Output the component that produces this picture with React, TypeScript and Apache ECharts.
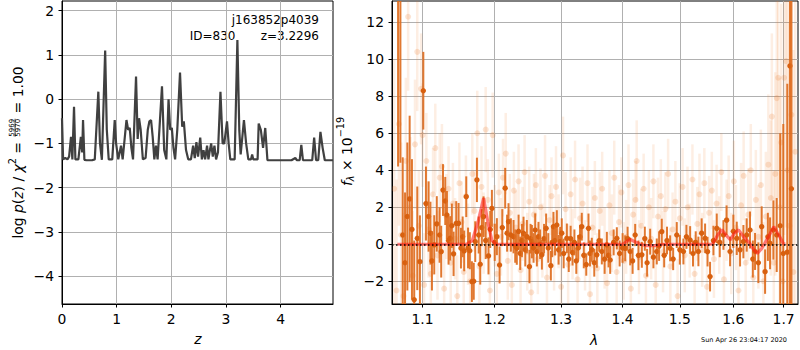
import React, { useEffect, useRef } from 'react';
import * as echarts from 'echarts';

const FONT = 'DejaVu Sans';

// ---- left panel: log p(z) ----
const zGrid = [
  0.00, 0.02, 0.06, 0.10, 0.13, 0.165, 0.19, 0.22, 0.245, 0.30,
  0.345, 0.37, 0.385, 0.41, 0.45, 0.55, 0.60, 0.665, 0.695, 0.73,
  0.79, 0.82, 0.855, 0.92, 0.965, 0.99, 1.03, 1.08, 1.11, 1.18,
  1.21, 1.24, 1.27, 1.30, 1.355, 1.385, 1.41, 1.44, 1.48, 1.53,
  1.57, 1.60, 1.63, 1.66, 1.69, 1.72, 1.75, 1.83, 1.87, 1.91,
  1.95, 1.98, 2.01, 2.04, 2.07, 2.11, 2.16, 2.20, 2.23, 2.27,
  2.31, 2.36, 2.40, 2.43, 2.46, 2.49, 2.53, 2.56, 2.59, 2.62,
  2.655, 2.68, 2.70, 2.73, 2.76, 2.79, 2.82, 2.855, 2.90, 2.94,
  2.97, 3.02, 3.05, 3.08, 3.16, 3.21, 3.245, 3.27, 3.33, 3.37,
  3.41, 3.46, 3.48, 3.50, 3.58, 3.60, 3.64, 3.68, 3.72, 3.76,
  4.20, 4.27, 4.30, 4.35, 4.38, 4.41, 4.58, 4.615, 4.65, 4.69,
  4.73, 4.77, 4.81, 4.96,
];
const logPz = [
  -0.43, -1.36, -1.33, -1.36, -1.30, -0.85, -1.36, -0.17, -1.36, -1.36,
  -0.85, -1.2, -0.47, -1.37, -1.38, -1.38, -1.36, 0.17, -1.0, -1.37,
  1.10, -0.69, -1.36, -1.36, -0.47, -1.0, -1.36, -1.05, -1.36, -0.47,
  -0.69, -0.65, -1.1, -1.36, 0.51, -0.9, -0.43, -0.69, -1.36, -1.33,
  -0.69, -0.5, -0.47, -0.85, -1.36, -1.05, -1.36, 0.29, -1.15, -1.36,
  0.0, -0.69, -0.65, -1.1, -1.36, -0.69, 0.60, -0.62, -0.5, -1.15,
  -1.36, -1.36, -1.05, -1.33, -0.97, -1.30, -0.87, -1.36, -1.15, -1.36,
  -1.05, -1.36, -1.2, -1.0, -1.30, -1.05, -1.36, -1.2, 0.17, -1.0,
  -1.0, -0.5, -1.0, -1.36, -1.36, 1.34, -0.7, -1.25, -0.47, -1.0,
  -1.36, -1.36, -1.25, -1.36, -1.36, -0.55, -0.7, -1.1, -0.65, -1.38,
  -1.38, -1.33, -1.38, -1.38, -1.03, -1.38, -1.38, -0.87, -1.38, -1.38,
  -0.74, -1.1, -1.38, -1.38,
];
const zTicks = [0, 1, 2, 3, 4];
const logpTicks = [-4, -3, -2, -1, 0, 1, 2];

// ---- right panel: spectrum ----
const darkWave = [
  1.068, 1.071, 1.074, 1.077, 1.080, 1.083, 1.086, 1.089, 1.093, 1.0965,
  1.101, 1.1045, 1.108, 1.1105, 1.1125, 1.1156, 1.119, 1.1228, 1.125, 1.1274,
  1.1305, 1.1328, 1.135, 1.1373, 1.1395, 1.1419, 1.1456, 1.1488, 1.1521, 1.1545,
  1.1566, 1.1595, 1.162, 1.1645, 1.1674, 1.170, 1.1721, 1.1745, 1.177, 1.1792,
  1.1815, 1.1839, 1.187, 1.191, 1.1935, 1.1959, 1.200, 1.2031, 1.207, 1.211,
  1.2152, 1.218, 1.2201, 1.2236, 1.2275, 1.230, 1.2324, 1.235, 1.2374, 1.240,
  1.2424, 1.245, 1.2474, 1.2513, 1.253, 1.255, 1.2575, 1.260, 1.2625, 1.265,
  1.2675, 1.2702, 1.2735, 1.2767, 1.280, 1.284, 1.286, 1.288, 1.2905, 1.2933,
  1.296, 1.2985, 1.301, 1.304, 1.309, 1.312, 1.315, 1.318, 1.321, 1.324,
  1.327, 1.330, 1.3328, 1.336, 1.340, 1.3436, 1.346, 1.349, 1.353, 1.3572,
  1.361, 1.3654, 1.370, 1.3737, 1.3765, 1.3792, 1.385, 1.3903, 1.395, 1.400,
  1.4044, 1.4085, 1.4129, 1.417, 1.4214, 1.427, 1.4329, 1.438, 1.442, 1.4473,
  1.453, 1.4589, 1.463, 1.4677, 1.472, 1.477, 1.4826, 1.488, 1.4945, 1.500,
  1.5065, 1.512, 1.5188, 1.524, 1.529, 1.534, 1.540, 1.5464, 1.551, 1.5557,
  1.562, 1.5683, 1.574, 1.581, 1.587, 1.5937, 1.600, 1.6066, 1.613, 1.6195,
  1.626, 1.6325, 1.638, 1.6424, 1.649, 1.6556, 1.6624, 1.668, 1.6724, 1.6791,
  1.6859, 1.693, 1.6993, 1.7075, 1.713, 1.716,
];
const darkFlux = [
  14.5, 15.0, 0.5, -1.0, 1.5, 2.45, 0.8, -3.0, 0.32, -0.94,
  8.3, 2.2, 1.5, 0.6, -0.9, -0.03, 1.1, 0.5, -0.4, 2.93,
  2.34, 1.58, 0.2, 0.32, 1.0, -0.52, 1.13, 1.13, -0.21, 0.4,
  -0.36, 2.57, -0.2, -0.35, -2.02, -2.0, 0.14, 3.48, 0.5, -1.08,
  0.9, 1.49, 0.2, -0.63, 0.8, 1.94, 0.1, 0.41, -1.12, 0.9,
  3.03, 0.6, 1.22, 0.5, 0.41, -0.1, -0.21, 0.7, -0.49, 0.2,
  0.59, -0.3, 0.41, -1.21, 0.3, 0.14, -0.2, 0.77, -0.4, 0.41,
  0.0, -0.57, 0.3, 0.86, -0.2, -1.16, 0.1, 0.95, 0.2, 1.04,
  -0.3, 0.14, 0.6, -0.5, 0.32, -0.8, 0.3, -0.45, 0.1, -0.9,
  -0.2, 0.4, 0.95, -0.6, -1.1, 0.86, -0.5, -0.3, -1.0, -0.57,
  0.2, -0.39, -0.8, -0.03, -0.6, -0.85, 0.1, 0.32, -0.5, -0.2,
  -0.22, 0.3, -0.39, -0.9, 0.5, -0.6, -0.57, 0.3, -1.0, 0.14,
  -0.7, -0.39, -0.1, 0.68, -0.6, 0.2, -0.22, -0.8, 0.5, -0.3,
  -0.39, 0.4, 0.23, -0.5, 0.1, -0.39, 0.6, 0.32, -0.4, -1.75,
  0.2, 0.86, 0.1, 0.5, 1.3, -0.39, 0.7, 0.32, -0.3, 0.14,
  0.5, 0.77, -0.8, -0.39, -1.0, 0.95, -1.48, 0.4, 0.05, 0.77,
  0.5, 1.0, -0.5, -0.43, 9.64, 3.0,
];
const darkErr = [
  10.3, 10.6, 4.2, 3.8, 4.0, 4.5, 3.8, 3.2, 2.8, 2.5,
  2.1, 2.0, 1.9, 1.7, 1.6, 1.6, 1.5, 1.5, 1.4, 1.4,
  1.3, 1.3, 1.3, 1.2, 1.2, 1.2, 1.2, 1.1, 1.1, 1.1,
  1.1, 1.1, 1.1, 1.0, 1.1, 1.0, 1.1, 1.2, 1.0, 1.1,
  1.0, 1.1, 1.0, 1.0, 1.0, 1.0, 1.0, 1.0, 1.0, 1.0,
  1.1, 1.0, 1.0, 0.9, 0.9, 0.9, 0.9, 0.9, 0.9, 0.9,
  0.9, 0.9, 0.9, 0.9, 0.8, 0.9, 0.8, 0.9, 0.8, 0.8,
  0.8, 0.8, 0.8, 0.8, 0.8, 0.8, 0.8, 0.8, 0.8, 0.8,
  0.8, 0.8, 0.8, 0.8, 0.8, 0.7, 0.7, 0.7, 0.7, 0.7,
  0.7, 0.65, 0.75, 0.7, 0.6, 0.8, 0.7, 0.65, 0.75, 0.7,
  0.6, 0.7, 0.8, 0.7, 0.65, 0.75, 0.7, 0.6, 0.7, 0.8,
  0.7, 0.65, 0.75, 0.7, 0.6, 0.8, 0.7, 0.65, 0.75, 0.7,
  0.6, 0.7, 0.8, 0.7, 0.65, 0.75, 0.7, 0.6, 0.7, 0.8,
  0.7, 0.65, 0.75, 0.7, 0.6, 0.8, 0.8, 0.8, 0.8, 0.8,
  0.8, 0.8, 0.8, 0.8, 0.8, 0.8, 0.9, 0.9, 0.9, 0.9,
  0.9, 1.0, 1.0, 1.0, 1.1, 1.1, 1.2, 1.3, 1.4, 1.6,
  2.0, 5.0, 7.0, 9.1, 16.0, 14.0,
];

const faintWave = [
  1.063, 1.066, 1.069, 1.072, 1.075, 1.078, 1.081, 1.084, 1.087, 1.090,
  1.093, 1.095, 1.098, 1.100, 1.102, 1.105, 1.108, 1.111, 1.114, 1.117,
  1.120, 1.123, 1.126, 1.129, 1.132, 1.135, 1.138, 1.141, 1.144, 1.147,
  1.150, 1.153, 1.156, 1.159, 1.162, 1.165, 1.168, 1.171, 1.175, 1.178,
  1.181, 1.184, 1.187, 1.190, 1.193, 1.197, 1.200, 1.203, 1.206, 1.209,
  1.212, 1.216, 1.219, 1.222, 1.225, 1.228, 1.231, 1.235, 1.238, 1.241,
  1.244, 1.248, 1.251, 1.254, 1.258, 1.261, 1.264, 1.268, 1.271, 1.275,
  1.278, 1.282, 1.285, 1.289, 1.292, 1.296, 1.300, 1.303, 1.307, 1.311,
  1.315, 1.318, 1.322, 1.326, 1.330, 1.334, 1.338, 1.342, 1.346, 1.350,
  1.354, 1.358, 1.362, 1.366, 1.370, 1.374, 1.378, 1.382, 1.386, 1.390,
  1.394, 1.398, 1.402, 1.406, 1.410, 1.414, 1.418, 1.422, 1.424, 1.428,
  1.432, 1.436, 1.440, 1.445, 1.449, 1.453, 1.457, 1.461, 1.466, 1.470,
  1.474, 1.479, 1.483, 1.487, 1.492, 1.496, 1.500, 1.505, 1.509, 1.514,
  1.518, 1.523, 1.527, 1.532, 1.536, 1.541, 1.545, 1.550, 1.554, 1.559,
  1.563, 1.568, 1.573, 1.577, 1.582, 1.587, 1.591, 1.596, 1.601, 1.605,
  1.610, 1.615, 1.620, 1.624, 1.629, 1.634, 1.639, 1.644, 1.649, 1.654,
  1.659, 1.664, 1.669, 1.674, 1.676, 1.680, 1.683, 1.686, 1.689, 1.692,
  1.695, 1.698, 1.701, 1.705, 1.708, 1.712, 1.716, 1.720, 1.724,
];
const faintFlux = [
  3.0, -2.5, 6.5, 0.5, -2.8, 4.5, 12.3, 2.0, -1.7, 5.4,
  10.4, 1.0, 8.4, 5.9, -2.2, 4.5, 0.8, -1.6, 2.7, 5.2,
  -0.6, 3.6, 4.2, -2.4, 1.5, 3.0, -1.0, 2.2, 0.3, -2.8,
  3.3, 1.2, -1.5, 2.6, 0.0, -2.0, 3.8, 1.8, 6.0, -1.2,
  3.1, 0.6, 6.2, 2.4, -2.5, 5.9, 1.0, -1.6, 2.8, 0.4,
  3.6, 4.9, -0.9, 1.7, -2.2, 2.9, 0.9, 3.4, -1.4, 1.1,
  3.9, -0.4, 2.3, -2.6, 1.6, 3.2, -0.8, 2.0, 0.2, 3.7,
  -1.8, 1.3, 2.6, -0.5, 3.1, 0.7, -2.3, 4.8, 1.9, -1.1,
  2.7, 0.0, 3.5, -1.9, 1.4, 2.2, -0.6, 3.3, -2.7, 0.9,
  2.5, -1.3, 1.8, 3.0, -0.2, -2.1, 2.1, 0.6, 3.6, -1.5,
  1.2, 2.8, -0.9, 0.4, 3.2, -2.4, 1.6, 2.4, 4.5, -0.7,
  1.0, 3.0, -1.7, 2.0, 0.3, 3.4, -2.2, 1.5, 2.6, -0.4,
  1.9, 3.8, -1.2, 0.8, 2.3, -2.8, 1.4, 3.1, -0.6, 2.0,
  0.2, 3.5, -1.6, 1.1, 2.7, -0.3, 3.3, -2.3, 1.7, 2.9,
  -0.8, 2.2, 0.5, 3.9, -1.9, 1.3, 2.6, -0.5, 3.4, 0.9,
  -2.5, 2.1, 3.7, -1.0, 1.6, 4.0, -1.8, 2.4, 0.4, 3.2,
  -2.0, 1.5, 4.3, 2.5, 6.9, -1.0, 3.8, 7.9, 9.0, 2.0,
  5.5, -2.0, 9.0, 9.9, 4.0, 1.0, 7.0, -1.5, 5.0,
];
const faintErr = [
  7.0, 6.0, 5.5, 5.0, 4.5, 4.5, 4.0, 3.8, 3.5, 3.5,
  3.2, 3.0, 3.0, 2.8, 2.8, 2.6, 2.6, 2.5, 2.5, 2.4,
  2.4, 2.4, 2.3, 2.3, 2.3, 2.3, 2.2, 2.2, 2.2, 2.2,
  2.2, 2.2, 2.2, 2.2, 2.2, 2.2, 2.2, 2.2, 2.3, 2.2,
  2.2, 2.2, 2.3, 2.2, 2.2, 2.3, 2.2, 2.1, 2.1, 2.1,
  2.1, 2.2, 2.1, 2.1, 2.1, 2.1, 2.0, 2.0, 2.0, 2.0,
  2.0, 2.1, 1.9, 2.0, 2.2, 2.0, 1.9, 2.1, 2.0, 2.2,
  2.0, 1.9, 2.1, 2.0, 2.2, 2.0, 1.9, 2.1, 2.0, 2.2,
  2.0, 1.9, 2.1, 2.0, 2.2, 2.0, 1.9, 2.1, 2.0, 2.2,
  2.0, 1.9, 2.1, 2.0, 2.2, 2.0, 1.9, 2.1, 2.0, 2.2,
  2.0, 1.9, 2.1, 2.0, 2.2, 2.0, 1.9, 2.1, 2.2, 2.0,
  2.0, 1.9, 2.1, 2.0, 2.2, 2.0, 1.9, 2.1, 2.0, 2.2,
  2.0, 1.9, 2.1, 2.0, 2.2, 2.0, 1.9, 2.1, 2.0, 2.2,
  2.0, 1.9, 2.1, 2.0, 2.2, 2.0, 1.9, 2.1, 2.0, 2.1,
  2.1, 2.1, 2.1, 2.1, 2.1, 2.2, 2.2, 2.2, 2.2, 2.3,
  2.3, 2.3, 2.4, 2.4, 2.5, 2.5, 2.6, 2.7, 2.8, 3.0,
  3.2, 3.5, 3.8, 4.2, 4.5, 5.0, 5.5, 6.0, 6.5, 7.0,
  7.5, 8.0, 8.5, 9.0, 10.0, 11.0, 12.0, 12.0, 13.0,
];

const modelWave = [
  1.067, 1.160, 1.168, 1.176, 1.184, 1.190, 1.196, 1.202, 1.400, 1.407,
  1.413, 1.420, 1.430, 1.440, 1.455, 1.470, 1.560, 1.570, 1.578, 1.586,
  1.594, 1.602, 1.610, 1.620, 1.632, 1.640, 1.647, 1.655, 1.662, 1.670,
  1.680, 1.690, 1.699, 1.703,
];
const modelFlux = [
  0, 0, 0.2, 1.2, 2.5, 1.2, 0.2, 0, 0, 0.15,
  0.26, 0.15, 0, -0.07, -0.07, 0, 0, 0.5, 0.78, 0.5,
  0.24, 0.6, 0.78, 0.4, 0.05, -0.3, -0.49, -0.25, 0.06, 0.45,
  0.95, 0.5, 0.05, 0,
];
const waveTicks = [1.1, 1.2, 1.3, 1.4, 1.5, 1.6, 1.7];
const fluxTicks = [-2, 0, 2, 4, 6, 8, 10, 12];
const waveRange = [1.0602, 1.7297];

const minusFmt = (v: number) => (v < 0 ? '\u2212' + Math.abs(v) : String(v));

type Piece = { t?: string; frac?: [string, string]; size: number; italic?: boolean; dy?: number };

function rotatedLabel(pieces: Piece[], cx: number, cy: number) {
  const ctx = document.createElement('canvas').getContext('2d') as CanvasRenderingContext2D;
  const tw = (t: string, size: number, italic: boolean) => {
    ctx.font = `${italic ? 'italic ' : ''}${size}px "${FONT}"`;
    return ctx.measureText(t).width;
  };
  const widths = pieces.map((p) =>
    p.frac
      ? Math.max(tw(p.frac[0], p.size, false), tw(p.frac[1], p.size, false)) + 2
      : tw(p.t as string, p.size, !!p.italic)
  );
  const total = widths.reduce((a, b) => a + b, 0);
  let x = -total / 2;
  const children: any[] = [];
  pieces.forEach((p, i) => {
    const w = widths[i];
    if (p.frac) {
      const base = { align: 'center', verticalAlign: 'middle', fontSize: p.size, fontFamily: FONT, fill: '#000' };
      children.push({ type: 'text', style: { ...base, text: p.frac[0], x: x + w / 2, y: -5.6 } });
      children.push({ type: 'text', style: { ...base, text: p.frac[1], x: x + w / 2, y: 0.6 } });
      children.push({ type: 'rect', shape: { x: x + 1, y: -2.8, width: w - 2, height: 0.7 }, style: { fill: '#000' } });
    } else {
      children.push({
        type: 'text',
        style: {
          text: p.t, x, y: p.dy ?? 0, align: 'left', verticalAlign: 'middle',
          fontSize: p.size, fontStyle: p.italic ? 'italic' : 'normal', fontFamily: FONT, fill: '#000',
        },
      });
    }
    x += w;
  });
  return { type: 'group', x: cx, y: cy, rotation: Math.PI / 2, children };
}

function errorBars(barColor: string, dotColor: string, lw: number, r: number) {
  return (_params: any, api: any) => {
    const x = api.value(0);
    const y = api.value(1);
    const e = api.value(2);
    const p0 = api.coord([x, y - e]);
    const p1 = api.coord([x, y + e]);
    const c = api.coord([x, y]);
    return {
      type: 'group',
      children: [
        { type: 'line', shape: { x1: p0[0], y1: p0[1], x2: p1[0], y2: p1[1] }, style: { stroke: barColor, lineWidth: lw } },
        { type: 'circle', shape: { cx: c[0], cy: c[1], r }, style: { fill: dotColor } },
      ],
    };
  };
}

const axisCommon = (ticks: number[], fmt: (v: number) => string) => ({
  axisLine: { show: true, onZero: false, lineStyle: { color: '#000', width: 1 } },
  axisTick: { show: true, inside: false, length: 3.5, customValues: ticks, lineStyle: { color: '#000', width: 1 } },
  axisLabel: { customValues: ticks, formatter: fmt, color: '#000', fontSize: 13.9, fontFamily: FONT, margin: 8 },
  splitLine: { show: true, lineStyle: { color: '#b0b0b0', width: 1 } },
});

export default function App() {
  const ref = useRef<HTMLDivElement>(null);
  useEffect(() => {
    if (!ref.current) return;
    const chart = echarts.init(ref.current, undefined, { renderer: 'svg' });
    const lnTicks = waveTicks.map((w) => Math.log(w));
    const option: any = {
      animation: false,
      backgroundColor: '#fff',
      grid: [
        { left: 62, top: 1, width: 271, height: 303, show: true, borderColor: '#000', borderWidth: 1, backgroundColor: 'transparent' },
        { left: 392, top: 1, width: 406, height: 303, show: true, borderColor: '#000', borderWidth: 1, backgroundColor: 'transparent' },
      ],
      xAxis: [
        { type: 'value', gridIndex: 0, min: 0, max: 4.96, ...axisCommon(zTicks, (v: number) => String(v)) },
        {
          type: 'value', gridIndex: 1, min: Math.log(waveRange[0]), max: Math.log(waveRange[1]),
          ...axisCommon(lnTicks, (v: number) => Math.exp(v).toFixed(1)),
        },
      ],
      yAxis: [
        { type: 'value', gridIndex: 0, min: -4.63, max: 2.22, ...axisCommon(logpTicks, minusFmt) },
        { type: 'value', gridIndex: 1, min: -3.23, max: 13.15, ...axisCommon(fluxTicks, minusFmt) },
      ],
      series: [
        {
          type: 'line', xAxisIndex: 0, yAxisIndex: 0, showSymbol: false, symbol: 'none',
          data: zGrid.map((z, i) => [z, logPz[i]]),
          lineStyle: { color: '#404040', width: 2.2 }, clip: true, z: 3,
        },
        {
          type: 'custom', xAxisIndex: 1, yAxisIndex: 1, clip: true, z: 2,
          encode: { x: 0, y: 1 },
          renderItem: errorBars('rgba(236,120,40,0.13)', 'rgba(236,120,40,0.2)', 2.5, 3),
          data: faintWave.map((w, i) => [Math.log(w), faintFlux[i], faintErr[i]]),
        },
        {
          type: 'custom', xAxisIndex: 1, yAxisIndex: 1, clip: true, z: 3,
          encode: { x: 0, y: 1 },
          renderItem: errorBars('rgba(222,108,30,0.92)', '#D8600F', 2, 2.7),
          data: darkWave.map((w, i) => [Math.log(w), darkFlux[i], darkErr[i]]),
        },
        {
          type: 'line', xAxisIndex: 1, yAxisIndex: 1, showSymbol: false, symbol: 'none', clip: true, z: 4,
          data: modelWave.map((w, i) => [Math.log(w), modelFlux[i]]),
          lineStyle: { color: 'rgba(255,20,20,0.55)', width: 3.2 },
          markLine: {
            silent: true, symbol: ['none', 'none'], label: { show: false },
            lineStyle: { color: '#000', width: 1.5, type: [1.5, 2.5] },
            data: [{ yAxis: 0 }],
          },
        },
      ],
      graphic: [
        { type: 'text', style: { text: 'j163852p4039', x: 319, y: 20, align: 'right', verticalAlign: 'middle', fontSize: 12, fontFamily: FONT, fill: '#000' } },
        { type: 'text', style: { text: 'ID=830', x: 235.5, y: 35.5, align: 'right', verticalAlign: 'middle', fontSize: 12, fontFamily: FONT, fill: '#000' } },
        { type: 'text', style: { text: 'z=3.2296', x: 319, y: 35.5, align: 'right', verticalAlign: 'middle', fontSize: 12, fontFamily: FONT, fill: '#000' } },
        { type: 'text', style: { text: 'z', x: 198, y: 339, align: 'center', verticalAlign: 'middle', fontSize: 13.9, fontStyle: 'italic', fontFamily: FONT, fill: '#000' } },
        { type: 'text', style: { text: 'λ', x: 594, y: 340, align: 'center', verticalAlign: 'middle', fontSize: 13.9, fontStyle: 'italic', fontFamily: FONT, fill: '#000' } },
        { type: 'text', style: { text: 'Sun Apr 26 23:04:17 2020', x: 787, y: 339.5, align: 'right', verticalAlign: 'middle', fontSize: 6.5, fontFamily: FONT, fill: '#000' } },
        rotatedLabel(
          [
            { t: 'log ', size: 13.9 },
            { t: 'p', size: 13.9, italic: true },
            { t: '(', size: 13.9 },
            { t: 'z', size: 13.9, italic: true },
            { t: ') / ', size: 13.9 },
            { t: 'χ', size: 13.9, italic: true },
            { t: '2', size: 9.7, dy: -5 },
            { t: ' = ', size: 13.9 },
            { frac: ['5969', '5970'], size: 7 },
            { t: ' = 1.00', size: 13.9 },
          ],
          17.5,
          152.5
        ),
        rotatedLabel(
          [
            { t: 'f', size: 13.9, italic: true },
            { t: 'λ', size: 9.7, italic: true, dy: 3 },
            { t: ' × 10', size: 13.9 },
            { t: '\u221219', size: 9.7, dy: -6.5 },
          ],
          347,
          151.5
        ),
      ],
    };
    chart.setOption(option);
    return () => chart.dispose();
  }, []);
  return (
    <div
      ref={ref}
      style={{ position: 'fixed', left: 0, top: 0, width: 800, height: 350, background: '#fff' }}
    />
  );
}
